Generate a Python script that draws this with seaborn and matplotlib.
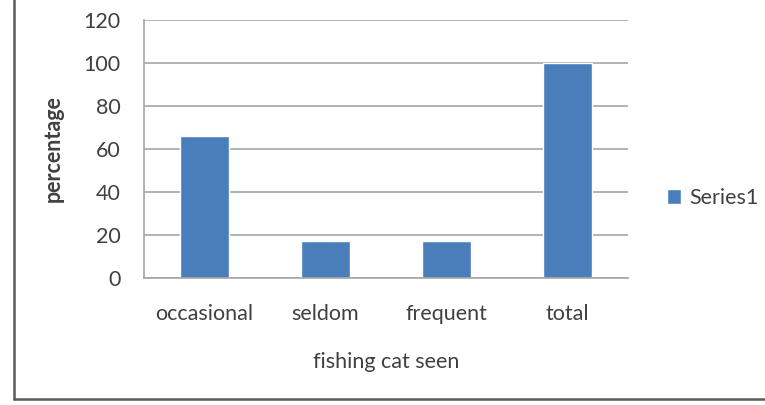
import matplotlib
matplotlib.use("Agg")
import matplotlib.pyplot as plt
from matplotlib.lines import Line2D
from matplotlib.ticker import FixedLocator
import seaborn as sns
import pandas as pd

categories = ["occasional", "seldom", "frequent", "total"]
values = [66, 17, 17, 100]
series_name = "Series1"
y_ticks = [0, 20, 40, 60, 80, 100, 120]

sns.set_style("white")
plt.rcParams["font.family"] = ["Lato", "DejaVu Sans"]

text_color = "#404040"
grid_color = "#a6a6a6"
bar_color = "#4a7ebb"
fs = 15.5

df = pd.DataFrame({"category": categories, "value": values})

fig = plt.figure(figsize=(7.65, 4.05), dpi=100)
ax = fig.add_axes([144 / 765, 1 - 277.5 / 405, (628 - 144) / 765, (277.5 - 20) / 405])

sns.barplot(data=df, x="category", y="value", color=bar_color, width=0.4,
            saturation=1, label=series_name, ax=ax)

ax.set_xlim(-0.5, len(categories) - 0.5)
ax.set_ylim(0, 120)
ax.set_yticks(y_ticks)
ax.yaxis.grid(True, color=grid_color, linewidth=1.2)
ax.set_axisbelow(True)

for side in ["top", "right"]:
    ax.spines[side].set_visible(False)
for side in ["left", "bottom"]:
    ax.spines[side].set_color(grid_color)
    ax.spines[side].set_linewidth(1.2)

# category boundary ticks below the horizontal axis
ax.xaxis.set_minor_locator(FixedLocator([i - 0.5 for i in range(len(categories) + 1)]))
ax.tick_params(axis="x", which="minor", length=6, width=1.2, color=grid_color, direction="out")
ax.tick_params(axis="x", which="major", length=0, pad=19, labelsize=fs, labelcolor=text_color)
ax.tick_params(axis="y", which="major", length=6, width=1.2, color=grid_color,
               direction="out", pad=11, labelsize=fs, labelcolor=text_color)

ax.set_xlabel("fishing cat seen", fontsize=fs, color=text_color, labelpad=20)
ax.set_ylabel("percentage", fontsize=fs, color=text_color, fontweight="bold", labelpad=14)

leg = ax.legend(loc="center left", bbox_to_anchor=(648 / 765, 1 - 198 / 405),
                bbox_transform=fig.transFigure, frameon=False, fontsize=fs,
                handlelength=0.65, handleheight=0.65, handletextpad=0.35)
for t in leg.get_texts():
    t.set_color(text_color)

# outer frame lines on the left and bottom
frame_color = "#5a5a5a"
fig.add_artist(Line2D([14 / 765, 14 / 765], [1 - 399 / 405, 1.0], color=frame_color,
                      linewidth=1.8, transform=fig.transFigure))
fig.add_artist(Line2D([14 / 765, 1.0], [1 - 399 / 405, 1 - 399 / 405], color=frame_color,
                      linewidth=1.8, transform=fig.transFigure))

fig.savefig("out.png", dpi=100)
